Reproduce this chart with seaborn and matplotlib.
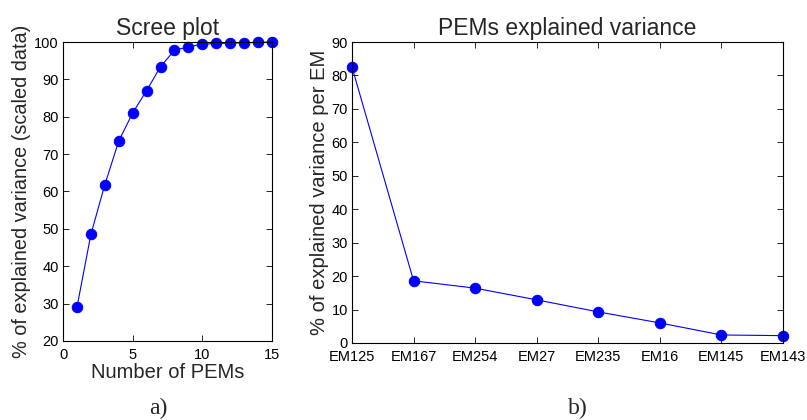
import matplotlib
matplotlib.use("Agg")
import matplotlib.pyplot as plt
import seaborn as sns
import pandas as pd

n_pems = [1, 2, 3, 4, 5, 6, 7, 8, 9, 10, 11, 12, 13, 14, 15]
cum_var = [29.0, 48.5, 61.8, 73.5, 81.0, 87.0, 93.4, 97.8, 98.7, 99.4, 99.6, 99.7, 99.8, 99.9, 100.0]

em_labels = ["EM125", "EM167", "EM254", "EM27", "EM235", "EM16", "EM145", "EM143"]
em_var = [82.5, 18.6, 16.4, 12.9, 9.3, 6.0, 2.4, 2.2]

sns.set_theme(style="ticks")
plt.rcParams['font.family'] = ['Liberation Sans', 'DejaVu Sans']

fig = plt.figure(figsize=(8.07, 4.2), dpi=100)
W, H = 807, 420
ax1 = fig.add_axes([63 / W, 1 - 341 / H, (272 - 63) / W, (341 - 42) / H])
ax2 = fig.add_axes([352 / W, 1 - 343 / H, (783 - 352) / W, (343 - 42) / H])

blue = "#0000ff"
df1 = pd.DataFrame({"n": n_pems, "v": cum_var})
sns.lineplot(data=df1, x="n", y="v", ax=ax1, color=blue, marker="o", markersize=7.5,
             markeredgecolor=blue, linewidth=0.8, clip_on=False)
ax1.set_xlim(0, 15)
ax1.set_ylim(20, 100)
ax1.set_xticks([0, 5, 10, 15])
ax1.set_yticks(range(20, 101, 10))
ax1.set_title("Scree plot", fontsize=16.5, pad=5)
ax1.set_xlabel("Number of PEMs", fontsize=14.5, labelpad=1)
ax1.set_ylabel("% of explained variance (scaled data)", fontsize=14.3, labelpad=2)

df2 = pd.DataFrame({"em": em_labels, "v": em_var})
sns.lineplot(data=df2, x="em", y="v", ax=ax2, color=blue, marker="o", markersize=7.5,
             markeredgecolor=blue, linewidth=0.8, sort=False, clip_on=False)
ax2.set_xlim(0, 7)
ax2.set_ylim(0, 90)
ax2.set_yticks(range(0, 91, 10))
ax2.set_title("PEMs explained variance", fontsize=16.5, pad=5)
ax2.set_xlabel("")
ax2.set_ylabel("% of explained variance per EM", fontsize=14.5, labelpad=2)

for ax in (ax1, ax2):
    for s in ax.spines.values():
        s.set_visible(True)
        s.set_color("black")
        s.set_linewidth(0.8)
    ax.tick_params(direction="in", length=4, width=0.6, labelsize=10.5, top=True, right=True,
                   colors="black", pad=3)
    ax.tick_params(axis="x", pad=5)
    ax.grid(False)

fig.text(158 / W, 1 - 408 / H, "a)", family=["Liberation Serif", "DejaVu Serif"], fontsize=17,
         ha="center", va="center")
fig.text(578 / W, 1 - 408 / H, "b)", family=["Liberation Serif", "DejaVu Serif"], fontsize=17,
         ha="center", va="center")

fig.savefig("out.png", dpi=100)
